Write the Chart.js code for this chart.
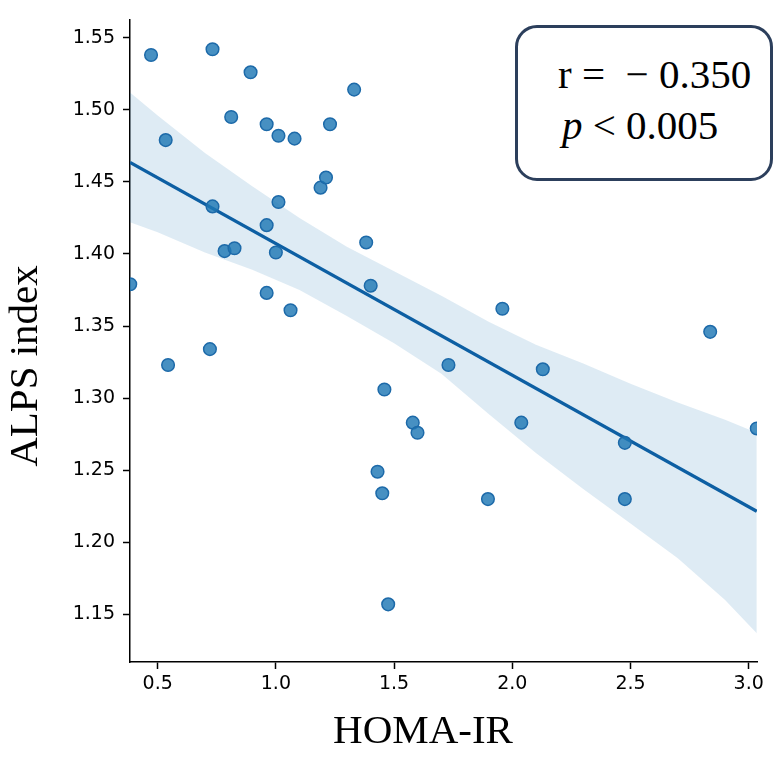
<!DOCTYPE html>
<html>
<head>
<meta charset="utf-8">
<script src="https://cdn.jsdelivr.net/npm/chart.js@4.4.1/dist/chart.umd.min.js"></script>
<style>
  html, body { margin: 0; padding: 0; background: #ffffff; }
  #wrap { position: relative; width: 780px; height: 758px; }
  #note {
    position: absolute; left: 515px; top: 25px; width: 252px; height: 150px;
    border: 3px solid #2c3f5c; border-radius: 22px; background: #ffffff;
    font-family: "Liberation Serif", "Times New Roman", serif; font-size: 41px; color: #000;
  }
  #note .l1 { position: absolute; left: 40px; top: 22px; white-space: pre; }
  #note .l2 { position: absolute; left: 44px; top: 73px; white-space: pre; }
</style>
</head>
<body>
<div id="wrap">
  <canvas id="c" width="780" height="758"></canvas>
  <div id="note"><span class="l1">r =  − 0.350</span><span class="l2"><i>p</i> &lt; 0.005</span></div>
</div>
<script>
// ---- data ----
const homaIR = [0.384,0.472,0.534,0.732,0.732,0.783,0.825,0.811,0.893,0.961,
                0.961,0.961,1.011,1.011,1.000,1.079,1.062,1.189,1.212,1.229,
                1.331,1.382,1.401,0.544,0.721,1.459,1.430,1.450,1.475,1.730,
                2.129,1.579,1.599,2.038,2.476,1.897,2.476,3.034,2.837,1.958];
const alpsIndex = [1.379,1.538,1.479,1.542,1.433,1.402,1.404,1.495,1.526,1.490,
                   1.420,1.373,1.482,1.436,1.401,1.480,1.361,1.446,1.453,1.490,
                   1.514,1.408,1.378,1.323,1.334,1.306,1.249,1.234,1.157,1.323,
                   1.320,1.283,1.276,1.283,1.269,1.230,1.230,1.279,1.346,1.362];
// regression line end points
const fitX = [0.383, 3.034];
const fitY = [1.4635, 1.2215];
// confidence band
const bandX     = [0.383,0.5,0.7,0.9,1.1,1.3,1.5,1.7,1.9,2.1,2.3,2.5,2.7,2.9,3.034];
const bandUpper = [1.512,1.496,1.470,1.447,1.425,1.405,1.388,1.371,1.353,1.337,1.324,1.310,1.297,1.285,1.276];
const bandLower = [1.422,1.415,1.401,1.389,1.375,1.357,1.338,1.317,1.289,1.262,1.237,1.213,1.189,1.160,1.137];
// ticks
const xTicks = [0.5,1.0,1.5,2.0,2.5,3.0];
const yTicks = [1.15,1.20,1.25,1.30,1.35,1.40,1.45,1.50,1.55];
const xTitle = "HOMA-IR";
const yTitle = "ALPS index";

const pts = homaIR.map((x,i)=>({x:x, y:alpsIndex[i]}));
const fit = fitX.map((x,i)=>({x:x, y:fitY[i]}));
const up = bandX.map((x,i)=>({x:x, y:bandUpper[i]}));
const lo = bandX.map((x,i)=>({x:x, y:bandLower[i]}));

const titlePlugin = {
  id: 'axisTitles',
  afterDraw(chart) {
    const ctx = chart.ctx;
    ctx.save();
    ctx.fillStyle = '#000';
    ctx.font = '41px "Liberation Serif", "Times New Roman", serif';
    ctx.textAlign = 'center';
    ctx.textBaseline = 'alphabetic';
    ctx.fillText(xTitle, 423, 743);
    ctx.translate(37, 366);
    ctx.rotate(-Math.PI/2);
    ctx.fillText(yTitle, 0, 0);
    ctx.restore();
  }
};

const tickFont = { family: '"DejaVu Sans", sans-serif', size: 19 };

new Chart(document.getElementById('c'), {
  type: 'scatter',
  data: {
    datasets: [
      { label: 'points', data: pts, order: 0, clip: 0,
        pointRadius: 6.3, pointBackgroundColor: 'rgba(31,119,180,0.82)',
        pointBorderColor: '#1d6aa9', pointBorderWidth: 1.5, showLine: false },
      { label: 'fit', type: 'line', data: fit, order: 1,
        borderColor: '#0d5fa3', borderWidth: 3.4, pointRadius: 0, fill: false, tension: 0 },
      { label: 'upper', type: 'line', data: up, order: 2,
        borderWidth: 0, borderColor: 'rgba(0,0,0,0)', pointRadius: 0,
        backgroundColor: 'rgba(31,119,180,0.15)', fill: '+1', tension: 0 },
      { label: 'lower', type: 'line', data: lo, order: 3,
        borderWidth: 0, borderColor: 'rgba(0,0,0,0)', pointRadius: 0, fill: false, tension: 0 }
    ]
  },
  options: {
    responsive: false,
    animation: false,
    events: [],
    layout: { padding: { top: 7, right: 23, left: 0, bottom: 0 } },
    plugins: { legend: { display: false }, tooltip: { enabled: false } },
    scales: {
      x: {
        type: 'linear', min: 0.383, max: 3.035,
        afterBuildTicks: a => { a.ticks = xTicks.map(v=>({value:v})); },
        afterFit: s => { s.height = 96; },
        border: { display: true, color: '#000', width: 1.5 },
        grid: { drawOnChartArea: false, drawTicks: true, tickLength: 7, tickWidth: 1.5, tickColor: '#000' },
        ticks: { color: '#000', font: tickFont, padding: 4, maxRotation: 0,
                 callback: v => Number(v).toFixed(1) }
      },
      y: {
        type: 'linear', min: 1.117, max: 1.5627,
        afterBuildTicks: a => { a.ticks = yTicks.map(v=>({value:v})); },
        afterFit: s => { s.width = 130; },
        border: { display: true, color: '#000', width: 1.5 },
        grid: { drawOnChartArea: false, drawTicks: true, tickLength: 7, tickWidth: 1.5, tickColor: '#000' },
        ticks: { color: '#000', font: tickFont, padding: 8,
                 callback: v => Number(v).toFixed(2) }
      }
    }
  },
  plugins: [titlePlugin]
});
</script>
</body>
</html>
